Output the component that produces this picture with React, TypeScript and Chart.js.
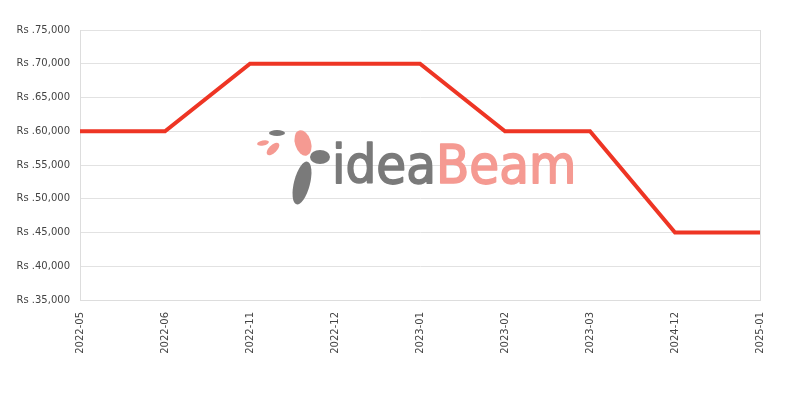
import React, { useEffect, useRef } from "react";
import { Chart, registerables } from "chart.js";

Chart.register(...registerables);

const months = [
  "2022-05",
  "2022-06",
  "2022-11",
  "2022-12",
  "2023-01",
  "2023-02",
  "2023-03",
  "2024-12",
  "2025-01",
];
const prices = [60000, 60000, 70000, 70000, 70000, 60000, 60000, 45000, 45000];
const yMin = 35000;
const yMax = 75000;
const yStep = 5000;

const fmt = (v: number) => "Rs ." + v.toLocaleString("en-US");

// draws the faint logo behind the line
const watermark = {
  id: "watermark",
  beforeDatasetsDraw(chart: any) {
    const { ctx, chartArea } = chart;
    const cx = (chartArea.left + chartArea.right) / 2;
    const cy = (chartArea.top + chartArea.bottom) / 2;
    ctx.save();
    // bird / feather, rough shapes
    ctx.fillStyle = "#7a7a7a";
    ctx.beginPath();
    ctx.ellipse(cx - 118, cy + 18, 8, 22, 0.25, 0, Math.PI * 2);
    ctx.fill();
    ctx.beginPath();
    ctx.ellipse(cx - 100, cy - 8, 10, 7, 0, 0, Math.PI * 2);
    ctx.fill();
    ctx.beginPath();
    ctx.ellipse(cx - 143, cy - 32, 8, 3, 0, 0, Math.PI * 2);
    ctx.fill();
    ctx.fillStyle = "#f59a92";
    ctx.beginPath();
    ctx.ellipse(cx - 117, cy - 22, 8, 13, -0.3, 0, Math.PI * 2);
    ctx.fill();
    ctx.beginPath();
    ctx.ellipse(cx - 157, cy - 22, 6, 2.5, -0.2, 0, Math.PI * 2);
    ctx.fill();
    ctx.beginPath();
    ctx.ellipse(cx - 147, cy - 16, 4, 8, 0.8, 0, Math.PI * 2);
    ctx.fill();
    // text
    ctx.font = "54px 'DejaVu Sans Condensed', 'DejaVu Sans'";
    ctx.textBaseline = "alphabetic";
    ctx.textAlign = "left";
    ctx.lineWidth = 1.6;
    ctx.lineJoin = "round";
    const x0 = cx - 88;
    const base = cy + 18;
    ctx.fillStyle = "#7a7a7a";
    ctx.strokeStyle = "#7a7a7a";
    ctx.fillText("idea", x0, base);
    ctx.strokeText("idea", x0, base);
    const w = ctx.measureText("idea").width;
    ctx.fillStyle = "#f59a92";
    ctx.strokeStyle = "#f59a92";
    ctx.fillText("Beam", x0 + w, base);
    ctx.strokeText("Beam", x0 + w, base);
    ctx.restore();
  },
};

const PriceChart: React.FC = () => {
  const canvasRef = useRef<HTMLCanvasElement | null>(null);

  useEffect(() => {
    const ctx = canvasRef.current?.getContext("2d");
    if (!ctx) return;

    const chart = new Chart(ctx, {
      type: "line",
      data: {
        labels: months,
        datasets: [
          {
            data: prices,
            borderColor: "#ee3524",
            borderWidth: 4,
            pointRadius: 0,
            fill: false,
            tension: 0,
          },
        ],
      },
      plugins: [watermark],
      options: {
        responsive: false,
        animation: false,
        layout: { padding: { top: 30, right: 40, left: 0, bottom: 0 } },
        plugins: {
          legend: { display: false },
          tooltip: { enabled: false },
        },
        scales: {
          x: {
            offset: false,
            grid: {
              drawTicks: false,
              color: (c: any) =>
                c.index === 0 || c.index === months.length - 1 ? "#dddddd" : "rgba(0,0,0,0)",
            },
            border: { color: "#dddddd" },
            ticks: {
              minRotation: 90,
              maxRotation: 90,
              padding: 12,
              color: "#444",
              font: { family: "'DejaVu Sans'", size: 10 },
              autoSkip: false,
            },
            afterFit: (s: any) => {
              s.height = 100;
            },
          },
          y: {
            min: yMin,
            max: yMax,
            grid: { drawTicks: false, color: "#e2e2e2" },
            border: { color: "#dddddd" },
            ticks: {
              stepSize: yStep,
              padding: 10,
              color: "#444",
              font: { family: "'DejaVu Sans'", size: 10 },
              callback: (v: any) => fmt(Number(v)),
            },
            afterFit: (s: any) => {
              s.width = 80;
            },
          },
        },
      },
    });

    return () => {
      chart.destroy();
    };
  }, []);

  return <canvas ref={canvasRef} width={800} height={400} />;
};

export default function App() {
  return (
    <div style={{ position: "absolute", left: 0, top: 0, width: 800, height: 400, background: "#fff" }}>
      <PriceChart />
    </div>
  );
}
